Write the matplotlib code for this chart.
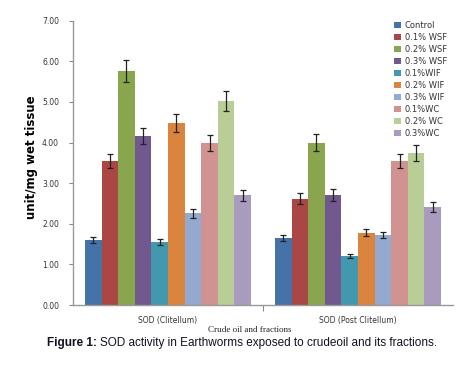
import matplotlib
matplotlib.use("Agg")
import matplotlib.pyplot as plt
import numpy as np

categories = ["SOD (Clitellum)", "SOD (Post Clitellum)"]
series = ["Control", "0.1% WSF", "0.2% WSF", "0.3% WSF", "0.1%WIF",
          "0.2% WIF", "0.3% WIF", "0.1%WC", "0.2% WC", "0.3%WC"]
clitellum = [1.60, 3.55, 5.76, 4.16, 1.55, 4.48, 2.26, 3.99, 5.02, 2.70]
post_clitellum = [1.65, 2.62, 4.00, 2.71, 1.21, 1.78, 1.72, 3.55, 3.74, 2.41]
err_clitellum = [0.08, 0.17, 0.28, 0.20, 0.08, 0.23, 0.11, 0.20, 0.25, 0.14]
err_post = [0.08, 0.13, 0.21, 0.14, 0.05, 0.08, 0.07, 0.18, 0.19, 0.12]
colors = ["#4572A7", "#AA4643", "#89A54E", "#71588F", "#4198AF",
          "#DB843D", "#93A9CF", "#D19392", "#B9CD96", "#A99BBD"]

fig = plt.figure(figsize=(4.7, 3.69), dpi=100)
ax = fig.add_axes([0.1553, 0.1734, 0.8085, 0.7705])

x = np.arange(len(categories))
w = 0.0874
for i, s in enumerate(series):
    vals = [clitellum[i], post_clitellum[i]]
    errs = [err_clitellum[i], err_post[i]]
    pos = x + (i - 4.5) * w
    ax.bar(pos, vals, width=w, color=colors[i], label=s, edgecolor="none", zorder=2)
    ax.errorbar(pos, vals, yerr=errs, fmt="none", ecolor="#222222",
                elinewidth=0.9, capsize=2.2, capthick=0.9, zorder=3)

ax.set_xlim(-0.5, 1.5)
ax.set_ylim(0, 7)
ax.set_yticks(np.arange(0, 7.01, 1))
ax.set_yticklabels([f"{v:.2f}" for v in np.arange(0, 7.01, 1)],
                   fontsize=5.5, family="DejaVu Sans", color="#333333")
ax.set_xticks([0.5], minor=True)
ax.set_xticks(x)
ax.set_xticklabels(categories, fontsize=5.5, family="DejaVu Sans", color="#333333")
ax.tick_params(axis="x", which="major", length=0, pad=8)
ax.tick_params(axis="x", which="minor", length=4, color="#888888", width=0.8)
ax.tick_params(axis="y", length=3, color="#888888", width=0.8, pad=7)

for sp in ["top", "right"]:
    ax.spines[sp].set_visible(False)
for sp in ["left", "bottom"]:
    ax.spines[sp].set_color("#999999")
    ax.spines[sp].set_linewidth(1.0)

ax.set_ylabel("unit/mg wet tissue", fontsize=8.5, fontweight="bold",
              family="DejaVu Sans")
ax.yaxis.set_label_coords(-0.092, 0.52)

fig.text(250 / 470, 1 - 330 / 369, "Crude oil and fractions", ha="center", va="center",
         fontsize=6.5, family="Liberation Serif", color="#222222")

leg = ax.legend(loc="upper left", bbox_to_anchor=(0.845, 1.0), frameon=False,
                fontsize=6, handlelength=0.8, handleheight=0.8, handletextpad=0.5,
                labelspacing=0.36, borderaxespad=0.0, borderpad=0.0)
for t in leg.get_texts():
    t.set_color("#333333")

cy = 1 - 343 / 369
t1 = fig.text(47 / 470, cy, "Figure 1: ", ha="left", va="center", fontsize=8.5,
              fontweight="bold", family="Liberation Sans", color="#111122")
fig.canvas.draw()
bb = t1.get_window_extent(renderer=fig.canvas.get_renderer())
fig.text(bb.x1 / fig.bbox.width, cy,
         "SOD activity in Earthworms exposed to crudeoil and its fractions.",
         ha="left", va="center", fontsize=8.5, family="Liberation Sans", color="#111122")

fig.savefig("out.png", dpi=100)
